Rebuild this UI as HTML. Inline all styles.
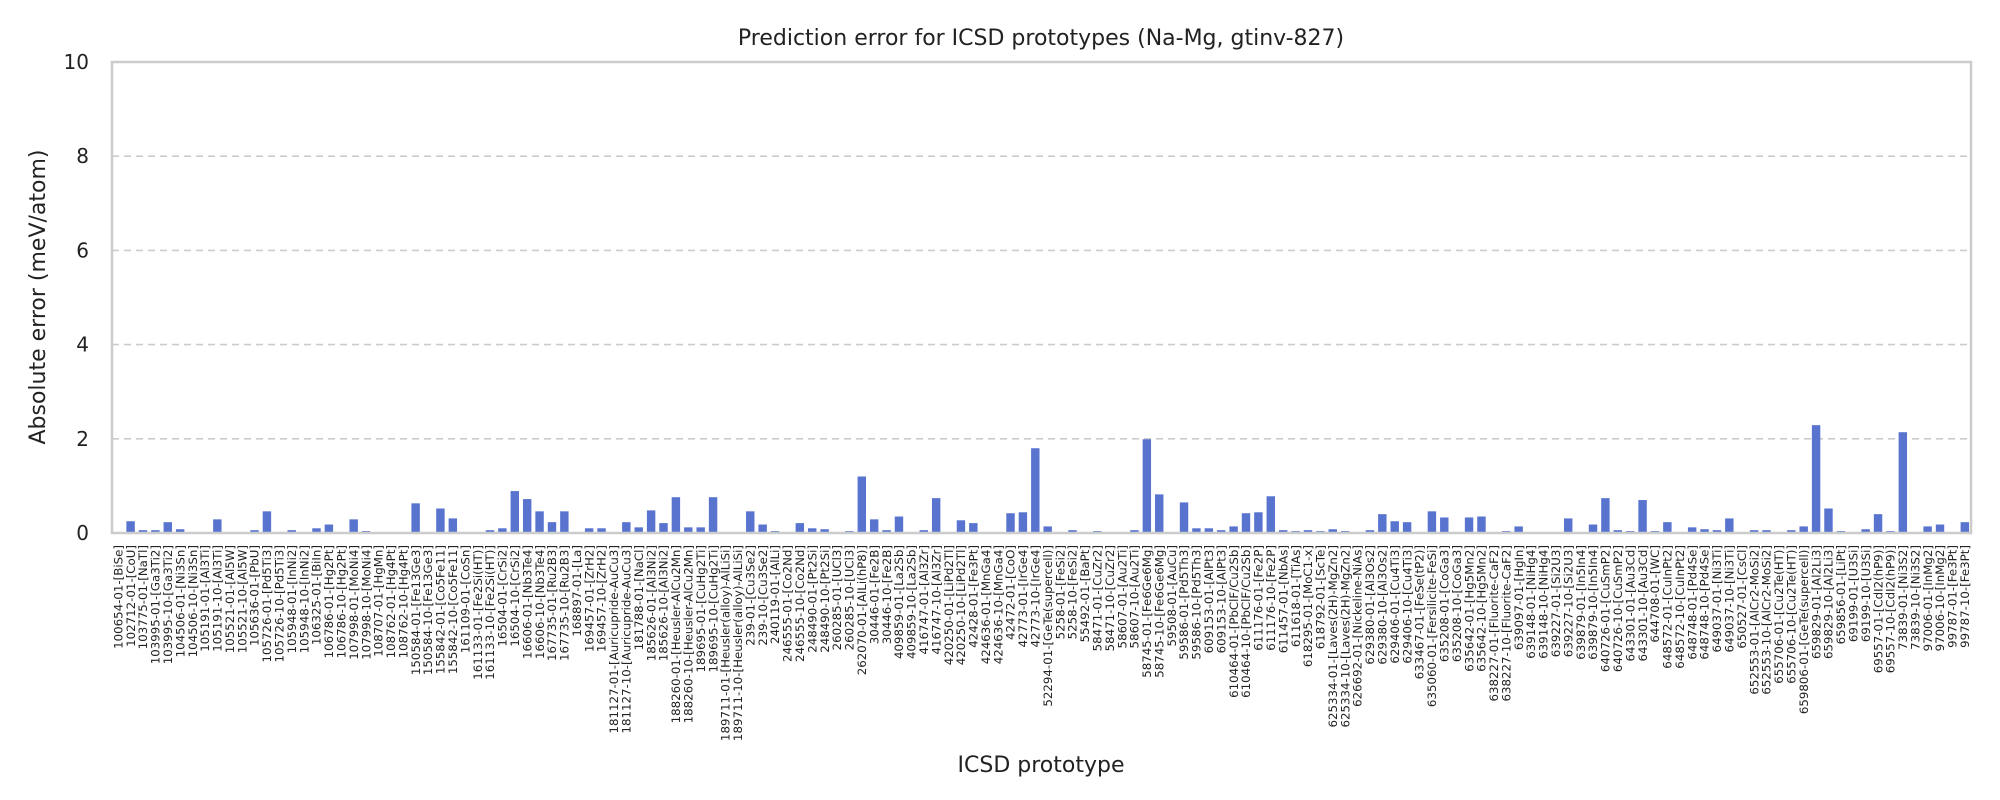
<!DOCTYPE html>
<html><head><meta charset="utf-8"><style>
html,body{margin:0;padding:0;background:#fff;}
svg{display:block;font-family:"DejaVu Sans","Liberation Sans",sans-serif;}
</style></head><body>
<svg id="chart" width="2000" height="800" viewBox="0 0 2000 800" xmlns="http://www.w3.org/2000/svg">
<text x="1041" y="45" font-size="22" text-anchor="middle" fill="#222">Prediction error for ICSD prototypes (Na-Mg, gtinv-827)</text>
<g id="grid"></g>
<g id="bars"></g>
<g id="yticks"></g>
<g id="xticks"></g>
<rect x="112" y="62" width="1859" height="471" fill="none" stroke="#cccccc" stroke-width="2.5"/>
<text transform="translate(45,297) rotate(-90)" font-size="22" text-anchor="middle" fill="#222">Absolute error (meV/atom)</text>
<text x="1041" y="772" font-size="22" text-anchor="middle" fill="#222">ICSD prototype</text>
</svg>
<script>
const categories = ["100654-01-[BiSe]","102712-01-[CoU]","103775-01-[NaTl]","103995-01-[Ga3Ti2]","103995-10-[Ga3Ti2]","104506-01-[Ni3Sn]","104506-10-[Ni3Sn]","105191-01-[Al3Ti]","105191-10-[Al3Ti]","105521-01-[Al5W]","105521-10-[Al5W]","105636-01-[PbU]","105726-01-[Pd5Ti3]","105726-10-[Pd5Ti3]","105948-01-[InNi2]","105948-10-[InNi2]","106325-01-[BiIn]","106786-01-[Hg2Pt]","106786-10-[Hg2Pt]","107998-01-[MoNi4]","107998-10-[MoNi4]","108707-01-[HgMn]","108762-01-[Hg4Pt]","108762-10-[Hg4Pt]","150584-01-[Fe13Ge3]","150584-10-[Fe13Ge3]","155842-01-[Co5Fe11]","155842-10-[Co5Fe11]","161109-01-[CoSn]","161133-01-[Fe2Si(HT)]","161133-10-[Fe2Si(HT)]","16504-01-[CrSi2]","16504-10-[CrSi2]","16606-01-[Nb3Te4]","16606-10-[Nb3Te4]","167735-01-[Ru2B3]","167735-10-[Ru2B3]","168897-01-[La]","169457-01-[ZrH2]","169457-10-[ZrH2]","181127-01-[Auricupride-AuCu3]","181127-10-[Auricupride-AuCu3]","181788-01-[NaCl]","185626-01-[Al3Ni2]","185626-10-[Al3Ni2]","188260-01-[Heusler-AlCu2Mn]","188260-10-[Heusler-AlCu2Mn]","189695-01-[CuHg2Ti]","189695-10-[CuHg2Ti]","189711-01-[Heusler(alloy)-AlLiSi]","189711-10-[Heusler(alloy)-AlLiSi]","239-01-[Cu3Se2]","239-10-[Cu3Se2]","240119-01-[AlLi]","246555-01-[Co2Nd]","246555-10-[Co2Nd]","248490-01-[Pt2Si]","248490-10-[Pt2Si]","260285-01-[UCl3]","260285-10-[UCl3]","262070-01-[AlLi(hP8)]","30446-01-[Fe2B]","30446-10-[Fe2B]","409859-01-[La2Sb]","409859-10-[La2Sb]","416747-01-[Al3Zr]","416747-10-[Al3Zr]","420250-01-[LiPd2Tl]","420250-10-[LiPd2Tl]","42428-01-[Fe3Pt]","424636-01-[MnGa4]","424636-10-[MnGa4]","42472-01-[CoO]","42773-01-[IrGe4]","42773-10-[IrGe4]","52294-01-[GeTe(supercell)]","5258-01-[FeSi2]","5258-10-[FeSi2]","55492-01-[BaPt]","58471-01-[CuZr2]","58471-10-[CuZr2]","58607-01-[Au2Ti]","58607-10-[Au2Ti]","58745-01-[Fe6Ge6Mg]","58745-10-[Fe6Ge6Mg]","59508-01-[AuCu]","59586-01-[Pd5Th3]","59586-10-[Pd5Th3]","609153-01-[AlPt3]","609153-10-[AlPt3]","610464-01-[PbClF/Cu2Sb]","610464-10-[PbClF/Cu2Sb]","611176-01-[Fe2P]","611176-10-[Fe2P]","611457-01-[NbAs]","611618-01-[TiAs]","618295-01-[MoC1-x]","618792-01-[ScTe]","625334-01-[Laves(2H)-MgZn2]","625334-10-[Laves(2H)-MgZn2]","626692-01-[Nickeline-NiAs]","629380-01-[Al3Os2]","629380-10-[Al3Os2]","629406-01-[Cu4Ti3]","629406-10-[Cu4Ti3]","633467-01-[FeSe(tP2)]","635060-01-[Fersilicite-FeSi]","635208-01-[CoGa3]","635208-10-[CoGa3]","635642-01-[Hg5Mn2]","635642-10-[Hg5Mn2]","638227-01-[Fluorite-CaF2]","638227-10-[Fluorite-CaF2]","639097-01-[HgIn]","639148-01-[NiHg4]","639148-10-[NiHg4]","639227-01-[Si2U3]","639227-10-[Si2U3]","639879-01-[In5In4]","639879-10-[In5In4]","640726-01-[CuSmP2]","640726-10-[CuSmP2]","643301-01-[Au3Cd]","643301-10-[Au3Cd]","644708-01-[WC]","648572-01-[CuInPt2]","648572-10-[CuInPt2]","648748-01-[Pd4Se]","648748-10-[Pd4Se]","649037-01-[Ni3Ti]","649037-10-[Ni3Ti]","650527-01-[CsCl]","652553-01-[AlCr2-MoSi2]","652553-10-[AlCr2-MoSi2]","655706-01-[Cu2Te(HT)]","655706-10-[Cu2Te(HT)]","659806-01-[GeTe(supercell)]","659829-01-[Al2Li3]","659829-10-[Al2Li3]","659856-01-[LiPt]","69199-01-[U3Si]","69199-10-[U3Si]","69557-01-[CdI2(hP9)]","69557-10-[CdI2(hP9)]","73839-01-[Ni3S2]","73839-10-[Ni3S2]","97006-01-[InMg2]","97006-10-[InMg2]","99787-01-[Fe3Pt]","99787-10-[Fe3Pt]"];
const errors = [0.02,0.25,0.06,0.06,0.23,0.08,0,0,0.29,0,0,0.06,0.46,0,0.06,0,0.1,0.18,0,0.29,0.04,0,0.015,0.015,0.63,0,0.52,0.31,0.015,0,0.06,0.1,0.89,0.72,0.46,0.23,0.46,0,0.1,0.1,0,0.23,0.12,0.48,0.21,0.76,0.12,0.12,0.76,0,0,0.46,0.18,0.04,0,0.21,0.1,0.08,0,0.04,1.2,0.29,0.06,0.35,0,0.06,0.74,0,0.27,0.21,0.015,0.015,0.42,0.44,1.8,0.14,0,0.06,0,0.04,0.015,0.015,0.06,1.99,0.82,0,0.65,0.1,0.1,0.06,0.14,0.42,0.44,0.78,0.06,0.04,0.06,0.04,0.08,0.04,0,0.06,0.4,0.25,0.23,0,0.46,0.33,0,0.33,0.35,0,0.04,0.14,0.015,0.015,0.015,0.31,0,0.18,0.74,0.06,0.04,0.7,0.04,0.23,0,0.12,0.08,0.06,0.31,0,0.06,0.06,0,0.06,0.14,2.29,0.52,0.04,0,0.08,0.4,0.04,2.14,0,0.14,0.18,0,0.23];
const yTicks = [0,2,4,6,8,10];

const NS = "http://www.w3.org/2000/svg";
const X0 = 112, X1 = 1971, Y0 = 533, Y1 = 62, YMAX = 10;
const step = (X1 - X0) / categories.length;
function xScale(i){ return X0 + step * (i + 0.5); }
function yScale(v){ return Y0 - (v / YMAX) * (Y0 - Y1); }

const grid = document.getElementById('grid');
const yt = document.getElementById('yticks');
yTicks.forEach(t => {
  if (t > 0 && t < YMAX) {
    const l = document.createElementNS(NS, 'line');
    
    
    l.setAttribute('x1', X0); l.setAttribute('x2', X1);
    l.setAttribute('y1', yScale(t)); l.setAttribute('y2', yScale(t));
    l.setAttribute('stroke', '#cccccc'); l.setAttribute('stroke-width', '1.6');
    l.setAttribute('stroke-dasharray', '7,5');
    grid.appendChild(l);
  }
  const tx = document.createElementNS(NS, 'text');
  
  
  tx.setAttribute('x', 89); tx.setAttribute('y', yScale(t) + 7);
  tx.setAttribute('font-size', '20'); tx.setAttribute('text-anchor', 'end'); tx.setAttribute('fill', '#222');
  tx.textContent = t;
  yt.appendChild(tx);
});

const bars = document.getElementById('bars');
const xt = document.getElementById('xticks');
const bw = step * 0.68;
categories.forEach((c, i) => {
  const v = errors[i];
  const r = document.createElementNS(NS, 'rect');
  
  
  r.setAttribute('x', xScale(i) - bw / 2); r.setAttribute('width', bw);
  r.setAttribute('y', yScale(v)); r.setAttribute('height', Y0 - yScale(v));
  r.setAttribute('fill', '#5874cf');
  bars.appendChild(r);
  const tx = document.createElementNS(NS, 'text');
  
  
  const x = xScale(i) + 4.2, y = 545;
  tx.setAttribute('transform', 'translate(' + x + ',' + y + ') rotate(-90)');
  tx.setAttribute('font-size', '11.8'); tx.setAttribute('text-anchor', 'end'); tx.setAttribute('fill', '#222');
  tx.textContent = c;
  xt.appendChild(tx);
});
</script>
</body></html>
